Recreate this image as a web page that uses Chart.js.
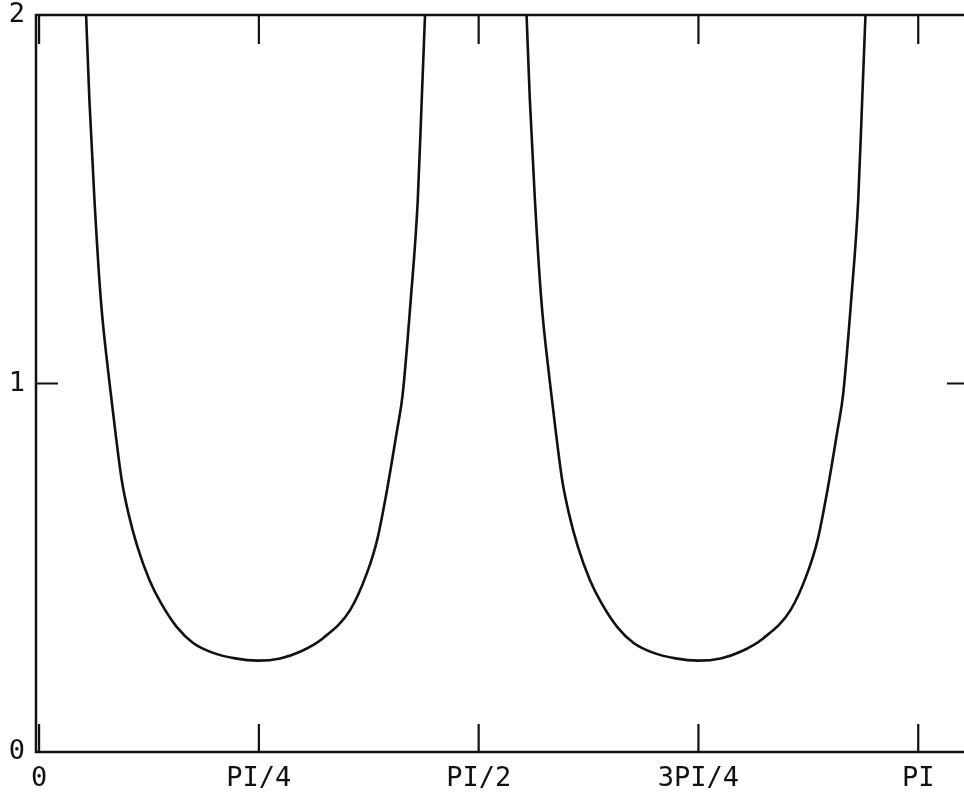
<!DOCTYPE html>
<html>
<head>
<meta charset="utf-8">
<script src="https://cdn.jsdelivr.net/npm/chart.js@4"></script>
<style>
  html, body { margin: 0; padding: 0; background: #fff; overflow: hidden; }
  #wrap { width: 1000px; height: 798px; }
</style>
</head>
<body>
<div id="wrap"><canvas id="plot" width="1000" height="798"></canvas></div>
<script>
// x is in units of PI/4
const xTickValues = [0, 1, 2, 3, 4];
const xTickLabels = ['0', 'PI/4', 'PI/2', '3PI/4', 'PI'];
const yTickValues = [0, 1, 2];

// first lobe
const lobe1X = [0.214, 0.229, 0.252, 0.281, 0.319, 0.346, 0.376, 0.406, 0.448, 0.502, 0.555, 0.627, 0.701, 0.792, 0.892, 0.996,
                1.097, 1.187, 1.292, 1.415, 1.492, 1.538, 1.583, 1.629, 1.654, 1.691, 1.723, 1.741, 1.756];
const lobe1Y = [2.0, 1.769, 1.498, 1.227, 1.009, 0.874, 0.738, 0.649, 0.556, 0.467, 0.404, 0.339, 0.296, 0.269, 0.254, 0.248,
                0.254, 0.272, 0.309, 0.385, 0.486, 0.575, 0.711, 0.874, 0.969, 1.227, 1.498, 1.769, 2.0];

// second lobe
const lobe2X = [2.218, 2.233, 2.256, 2.285, 2.323, 2.350, 2.380, 2.410, 2.452, 2.506, 2.559, 2.631, 2.705, 2.796, 2.896, 3.000,
                3.101, 3.191, 3.296, 3.419, 3.496, 3.542, 3.587, 3.633, 3.658, 3.695, 3.727, 3.745, 3.760];
const lobe2Y = [2.0, 1.769, 1.498, 1.227, 1.009, 0.874, 0.738, 0.649, 0.556, 0.467, 0.404, 0.339, 0.296, 0.269, 0.254, 0.248,
                0.254, 0.272, 0.309, 0.385, 0.486, 0.575, 0.711, 0.874, 0.969, 1.227, 1.498, 1.769, 2.0];

const ink = '#111';
const labelFont = { family: 'DejaVu Sans Mono', size: 27 };

function toPoints(xs, ys) {
    return xs.map((x, i) => ({ x: x, y: ys[i] }));
}

// frame and inward tick marks
const frameTicks = {
    id: 'frameTicks',
    afterDatasetsDraw(chart) {
        const ctx = chart.ctx;
        const area = chart.chartArea;
        const xs = chart.scales.x;
        const ys = chart.scales.y;
        ctx.save();
        ctx.strokeStyle = ink;
        ctx.lineWidth = 2.5;
        ctx.strokeRect(area.left, area.top, area.right - area.left, area.bottom - area.top);
        ctx.lineWidth = 2.2;
        ctx.beginPath();
        xTickValues.forEach(v => {
            const px = xs.getPixelForValue(v);
            ctx.moveTo(px, area.bottom);
            ctx.lineTo(px, area.bottom - 28);
            ctx.moveTo(px, area.top);
            ctx.lineTo(px, area.top + 29);
        });
        yTickValues.slice(1, -1).forEach(v => {
            const py = ys.getPixelForValue(v);
            ctx.moveTo(area.left, py);
            ctx.lineTo(area.left + 22, py);
            ctx.moveTo(area.right, py);
            ctx.lineTo(area.right - 22, py);
        });
        ctx.stroke();
        ctx.restore();
    }
};

const chart = new Chart(document.getElementById('plot'), {
    type: 'line',
    data: {
        datasets: [
            { data: toPoints(lobe1X, lobe1Y) },
            { data: toPoints(lobe2X, lobe2Y) }
        ]
    },
    options: {
        responsive: false,
        animation: false,
        layout: { padding: { top: 15, right: 31, left: 0, bottom: 0 } },
        elements: {
            line: { borderColor: ink, borderWidth: 2.6, cubicInterpolationMode: 'monotone' },
            point: { radius: 0 }
        },
        plugins: { legend: { display: false }, tooltip: { enabled: false } },
        scales: {
            x: {
                type: 'linear',
                min: -0.014,
                max: 4.231,
                afterBuildTicks: s => { s.ticks = xTickValues.map(v => ({ value: v })); },
                afterFit: s => { s.height = 46; s.paddingLeft = 0; s.paddingRight = 0; },
                ticks: {
                    color: ink,
                    font: labelFont,
                    padding: 11,
                    maxRotation: 0,
                    callback: (v) => xTickLabels[xTickValues.indexOf(v)]
                },
                grid: { display: false, drawTicks: false },
                border: { display: false }
            },
            y: {
                min: 0,
                max: 2,
                afterBuildTicks: s => { s.ticks = yTickValues.map(v => ({ value: v })); },
                afterFit: s => { s.width = 36; s.paddingTop = 0; s.paddingBottom = 0; },
                ticks: { color: ink, font: labelFont, padding: 11 },
                grid: { display: false, drawTicks: false },
                border: { display: false }
            }
        }
    },
    plugins: [frameTicks]
});
</script>
</body>
</html>
